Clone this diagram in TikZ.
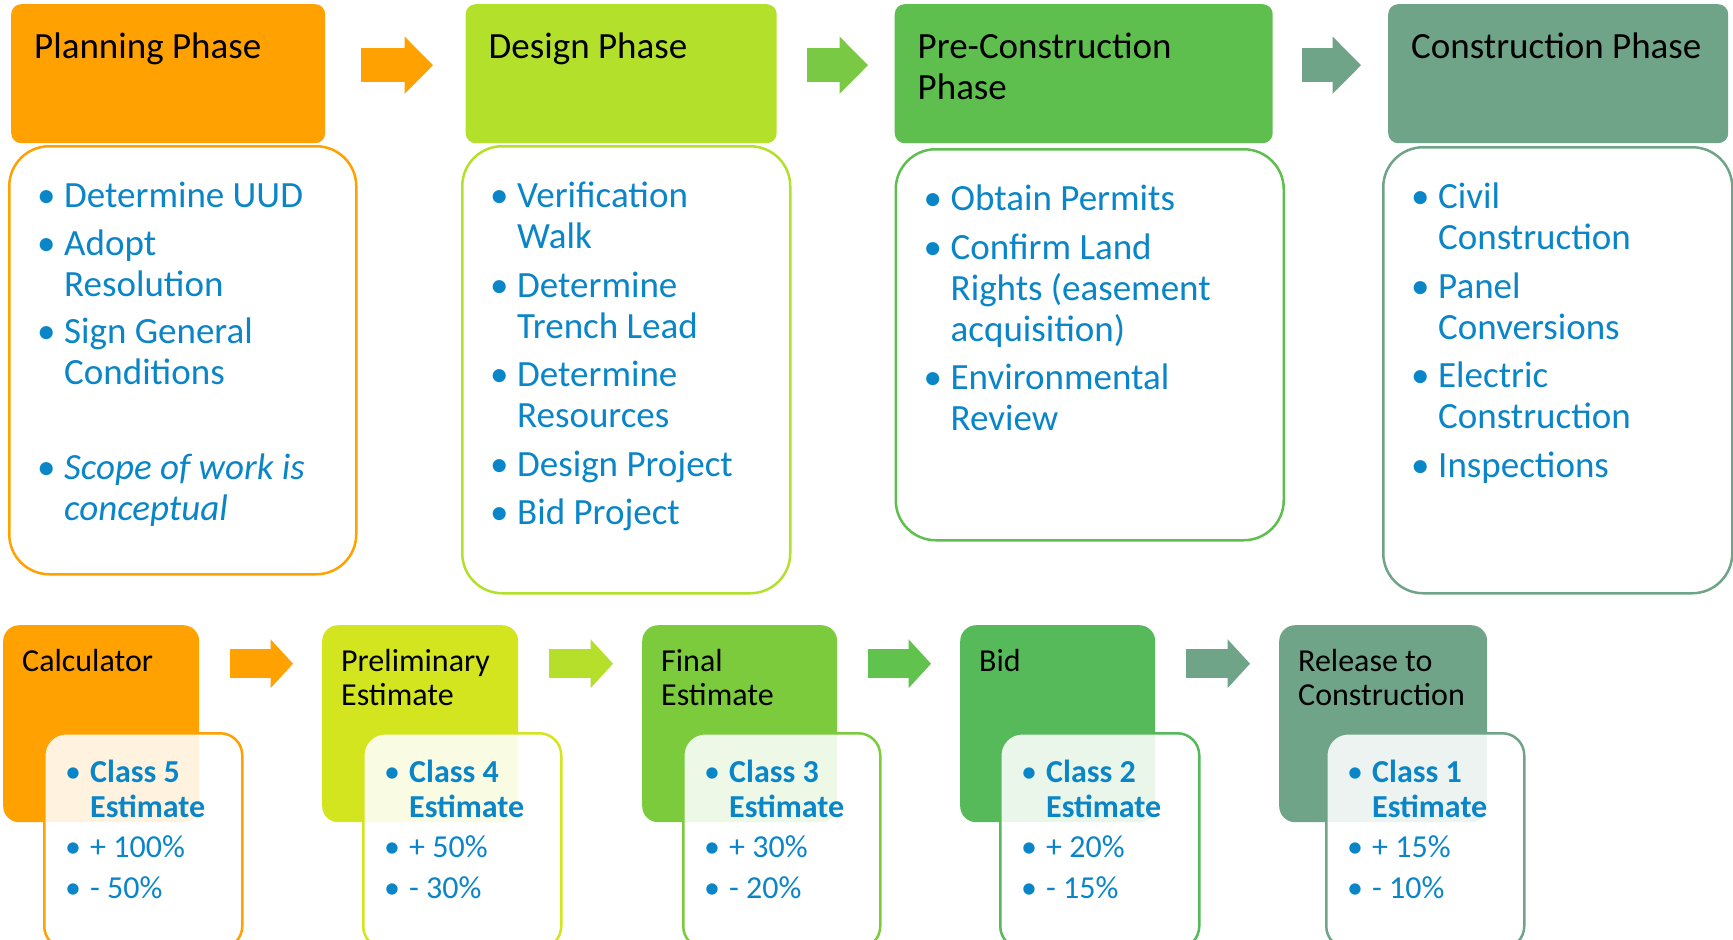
\documentclass[tikz,border=0pt]{standalone}
\usepackage{fontspec}
\setmainfont{Carlito}
\usepackage{xcolor}
\usetikzlibrary{calc,arrows.meta}

\definecolor{planorange}{HTML}{FFA100}
\definecolor{designlime}{HTML}{B2E02B}
\definecolor{prelimlime}{HTML}{D3E51F}
\definecolor{finalgreen}{HTML}{7BCB3D}
\definecolor{pregreen}{HTML}{5EBF4F}
\definecolor{bidgreen}{HTML}{56B95A}
\definecolor{conssage}{HTML}{6FA488}
\definecolor{arrowgreen}{HTML}{7AC944}
\definecolor{arrowlime}{HTML}{B5DF2A}
\definecolor{arrowmid}{HTML}{62C24E}
\definecolor{itemblue}{HTML}{0A86C8}

% first lines get a fixed height, so north west is a known distance above the baseline
\newcommand{\tline}{\rule{0pt}{30pt}}
\newcommand{\sline}{\rule{0pt}{26pt}}
\newcommand{\blt}{\tline\makebox[27pt][l]{•}}
\newcommand{\cnt}{\hspace*{27pt}}
\newcommand{\sblt}{\sline\makebox[25pt][l]{•}}
\newcommand{\scnt}{\hspace*{25pt}}

\begin{document}
\begin{tikzpicture}[x=1pt, y=-1pt,
        phasebox/.style={anchor=north west, inner sep=0pt, rounded corners=10pt},
        listbox/.style={anchor=north west, inner sep=0pt, rounded corners=40pt, line width=2.5pt, fill=white},
        estbox/.style={anchor=north west, inner sep=0pt, rounded corners=16pt, minimum height=197pt},
        notebox/.style={anchor=north west, inner sep=0pt, rounded corners=22pt, line width=2.5pt, fill=white, fill opacity=0.88, minimum height=215pt},
        titletext/.style={anchor=north west, inner sep=0pt, align=left, font=\fontsize{37}{40.5}\selectfont},
        listtext/.style={anchor=north west, inner sep=0pt, align=left, text=itemblue, font=\fontsize{37}{41}\selectfont},
        esttitle/.style={anchor=north west, inner sep=0pt, align=left, font=\fontsize{32}{34}\selectfont},
        esttext/.style={anchor=north west, inner sep=0pt, align=left, text=itemblue, font=\fontsize{32}{35}\selectfont},
        bigarrow/.style={draw=#1, line width=34pt, -{Triangle[length=28.5pt, width=57.5pt, line width=0pt]}},
        smallarrow/.style={draw=#1, line width=29pt, -{Triangle[length=22.5pt, width=49pt, line width=0pt]}, shorten <=31pt, shorten >=29pt}]
        \fill[white] (0,0) rectangle (1733,940);
        \useasboundingbox (0,0) rectangle (1733,940);

        % phases
        \node[phasebox, fill=planorange, minimum width=314pt, minimum height=139pt] (planhead) at (11,4) {};
        \node[phasebox, fill=designlime, minimum width=311pt, minimum height=139pt] (designhead) at (465.5,4) {};
        \node[phasebox, fill=pregreen, minimum width=378pt, minimum height=139pt] (prehead) at (894.5,4) {};
        \node[phasebox, fill=conssage, minimum width=340pt, minimum height=139pt] (conshead) at (1388,4) {};

        \node[titletext] (plantitle) at ($(planhead.north west)+(23,24.5)$) {\tline Planning Phase};
        \node[titletext] (designtitle) at ($(designhead.north west)+(23,24.5)$) {\tline Design Phase};
        \node[titletext] (pretitle) at ($(prehead.north west)+(23,24.5)$) {\tline Pre-Construction\\Phase};
        \node[titletext] (constitle) at ($(conshead.north west)+(23,24.5)$) {\tline Construction Phase};

        \node[listbox, draw=planorange, minimum width=347pt, minimum height=428pt] (planbody) at (8,145) {};
        \node[listbox, draw=designlime, minimum width=328pt, minimum height=447pt] (designbody) at (461,145) {};
        \node[listbox, draw=pregreen, minimum width=388pt, minimum height=391pt] (prebody) at (894.5,148) {};
        \node[listbox, draw=conssage, minimum width=349pt, minimum height=446pt] (consbody) at (1382,146) {};

        \node[listtext] (planlist) at ($(planbody.north west)+(29,32.5)$) {\blt Determine UUD\\[6.5pt]
            \blt Adopt\\ \cnt Resolution\\[6.5pt]
            \blt Sign General\\ \cnt Conditions\\[6.5pt]
            \mbox{}\\[6.5pt]
            \blt \textit{Scope of work is}\\ \cnt \textit{conceptual}};
        \node[listtext] (designlist) at ($(designbody.north west)+(29,32.5)$) {\blt Verification\\ \cnt Walk\\[7.5pt]
            \blt Determine\\ \cnt Trench Lead\\[7.5pt]
            \blt Determine\\ \cnt Resources\\[7.5pt]
            \blt Design Project\\[7.5pt]
            \blt Bid Project};
        \node[listtext] (prelist) at ($(prebody.north west)+(29,32.5)$) {\blt Obtain Permits\\[7.5pt]
            \blt Confirm Land\\ \cnt Rights (easement\\ \cnt acquisition)\\[7.5pt]
            \blt Environmental\\ \cnt Review};
        \node[listtext] (conslist) at ($(consbody.north west)+(29,32.5)$) {\blt Civil\\ \cnt Construction\\[7.5pt]
            \blt Panel\\ \cnt Conversions\\[7.5pt]
            \blt Electric\\ \cnt Construction\\[7.5pt]
            \blt Inspections};

        \draw[bigarrow=planorange, shorten <=36pt, shorten >=32.5pt] ([yshift=8.5pt]planhead.east) -- ([yshift=8.5pt]designhead.west);
        \draw[bigarrow=arrowgreen, shorten <=30.5pt, shorten >=26.5pt] ([yshift=8.5pt]designhead.east) -- ([yshift=8.5pt]prehead.west);
        \draw[bigarrow=conssage, shorten <=29pt, shorten >=27pt] ([yshift=8.5pt]prehead.east) -- ([yshift=8.5pt]conshead.west);

        % estimates
        \node[estbox, fill=planorange, minimum width=196pt] (calcbox) at (3,625) {};
        \node[estbox, fill=prelimlime, minimum width=196pt] (prelimbox) at (322,625) {};
        \node[estbox, fill=finalgreen, minimum width=195pt] (finalbox) at (642,625) {};
        \node[estbox, fill=bidgreen, minimum width=195pt] (bidbox) at (960,625) {};
        \node[estbox, fill=conssage, minimum width=208pt] (relbox) at (1279,625) {};

        \node[esttitle] (calctitle) at ($(calcbox.north west)+(19,20)$) {\sline Calculator};
        \node[esttitle] (prelimtitle) at ($(prelimbox.north west)+(19,20)$) {\sline Preliminary\\Estimate};
        \node[esttitle] (finaltitle) at ($(finalbox.north west)+(19,20)$) {\sline Final\\Estimate};
        \node[esttitle] (bidtitle) at ($(bidbox.north west)+(19,20)$) {\sline Bid};
        \node[esttitle] (reltitle) at ($(relbox.north west)+(19,20)$) {\sline Release to\\Construction};

        \node[notebox, draw=planorange, minimum width=198pt] (calcnote) at (43,732) {};
        \node[notebox, draw=prelimlime, minimum width=198pt] (prelimnote) at (362,732) {};
        \node[notebox, draw=finalgreen, minimum width=197pt] (finalnote) at (682,732) {};
        \node[notebox, draw=bidgreen, minimum width=199pt] (bidnote) at (999,732) {};
        \node[notebox, draw=conssage, minimum width=198pt] (relnote) at (1325,732) {};

        \node[esttext] (calclist) at ($(calcnote.north west)+(22,24)$) {\sblt \textbf{Class 5}\\ \scnt \textbf{Estimate}\\[5.5pt]
            \sblt + 100\%\\[5.5pt] \sblt - 50\%};
        \node[esttext] (prelimlist) at ($(prelimnote.north west)+(22,24)$) {\sblt \textbf{Class 4}\\ \scnt \textbf{Estimate}\\[5.5pt]
            \sblt + 50\%\\[5.5pt] \sblt - 30\%};
        \node[esttext] (finallist) at ($(finalnote.north west)+(22,24)$) {\sblt \textbf{Class 3}\\ \scnt \textbf{Estimate}\\[5.5pt]
            \sblt + 30\%\\[5.5pt] \sblt - 20\%};
        \node[esttext] (bidlist) at ($(bidnote.north west)+(22,24)$) {\sblt \textbf{Class 2}\\ \scnt \textbf{Estimate}\\[5.5pt]
            \sblt + 20\%\\[5.5pt] \sblt - 15\%};
        \node[esttext] (rellist) at ($(relnote.north west)+(22,24)$) {\sblt \textbf{Class 1}\\ \scnt \textbf{Estimate}\\[5.5pt]
            \sblt + 15\%\\[5.5pt] \sblt - 10\%};

        \draw[smallarrow=planorange] ([yshift=60pt]calcbox.east) -- ([yshift=60pt]prelimbox.west);
        \draw[smallarrow=arrowlime] ([yshift=60pt]prelimbox.east) -- ([yshift=60pt]finalbox.west);
        \draw[smallarrow=arrowmid] ([yshift=60pt]finalbox.east) -- ([yshift=60pt]bidbox.west);
        \draw[smallarrow=conssage] ([yshift=60pt]bidbox.east) -- ([yshift=60pt]relbox.west);
    \end{tikzpicture}
\end{document}
